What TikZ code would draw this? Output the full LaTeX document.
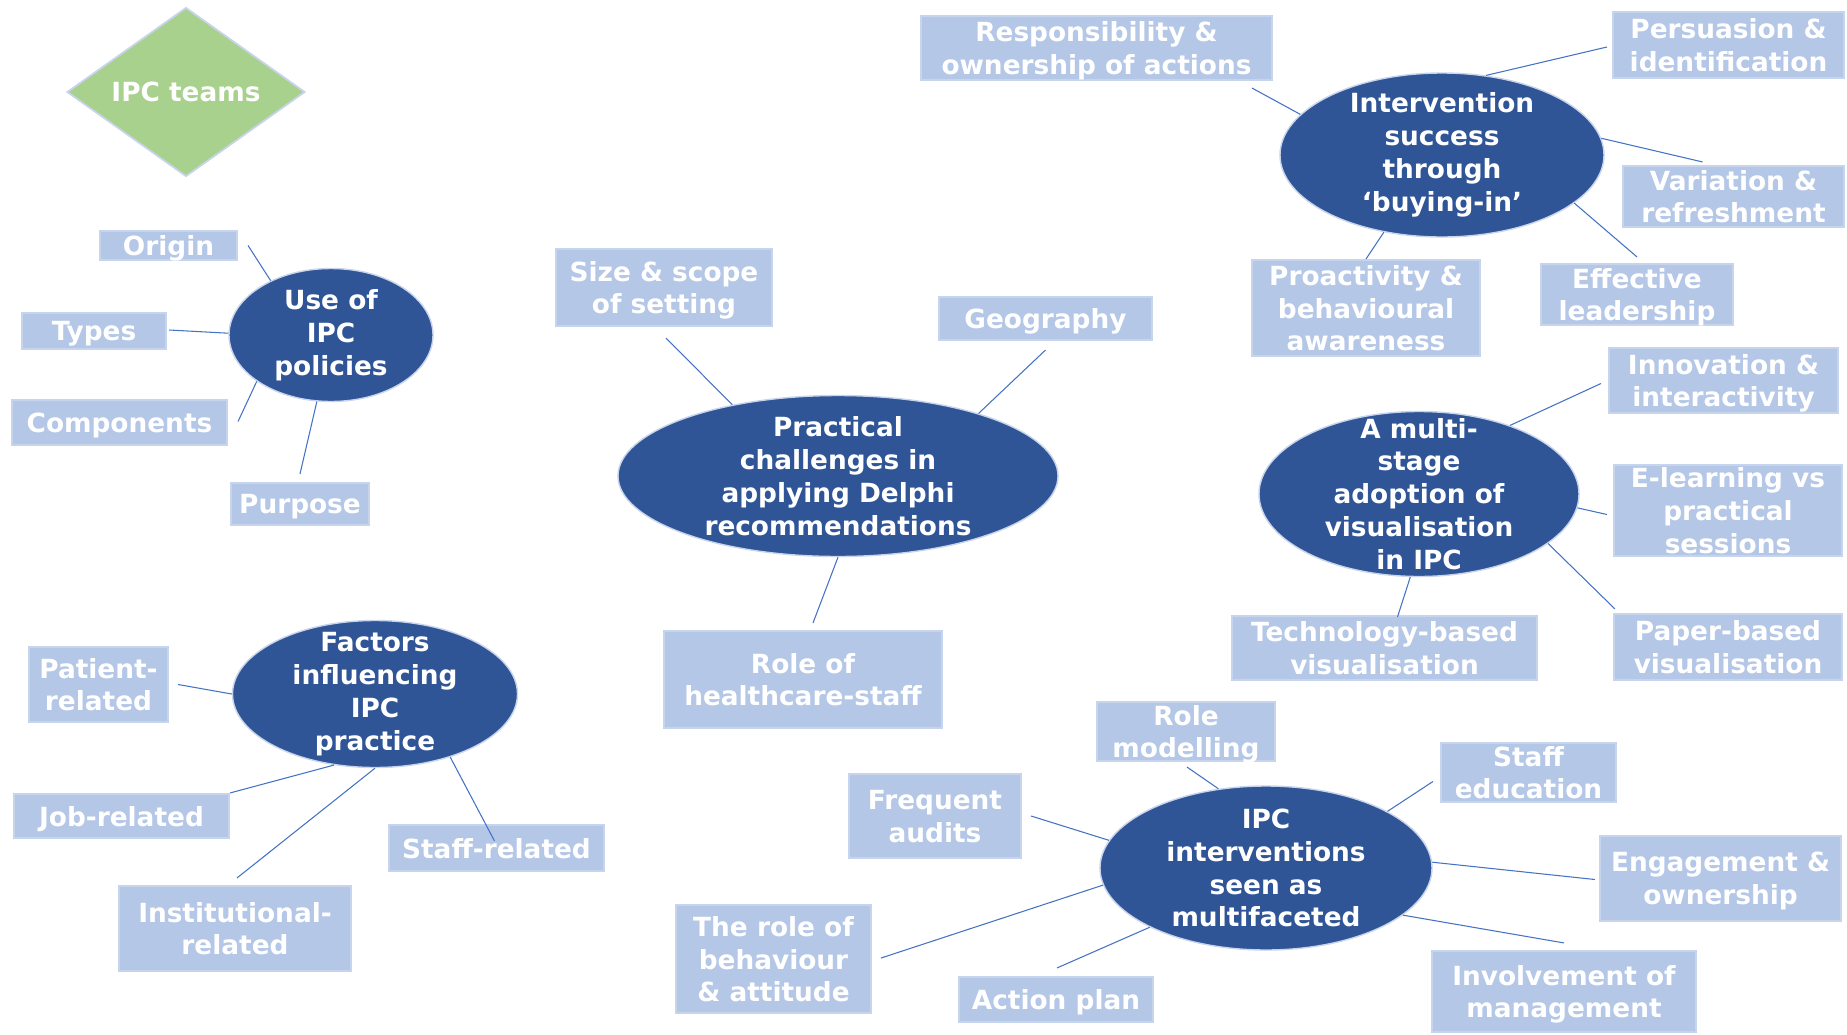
\documentclass[tikz,border=0pt]{standalone}
\usepackage{fontspec}
\setmainfont{DejaVu Sans}
\usetikzlibrary{shapes.geometric,calc}
\definecolor{hubblue}{HTML}{2F5597}
\definecolor{hubedge}{HTML}{C8D4EB}
\definecolor{leafblue}{HTML}{B4C7E7}
\definecolor{leafedge}{HTML}{C6D4ED}
\definecolor{linkblue}{HTML}{4472C4}
\definecolor{teamgreen}{HTML}{A9D18E}
\newcommand{\labfont}{\fontsize{15}{18.7}\selectfont\bfseries}
\begin{document}
\begin{tikzpicture}[x=0.02cm,y=-0.02cm,
  sz/.style 2 args={minimum width=#1*0.02cm, minimum height=#2*0.02cm},
  hub/.style={ellipse, fill=hubblue, draw=hubedge, line width=0.8pt, inner sep=0pt},
  hubtext/.style={text=white, align=center, font=\labfont, inner sep=0pt},
  leaf/.style={rectangle, fill=leafblue, draw=leafedge, line width=1.2pt, inner sep=0pt,
    text=white, align=center, font=\labfont, text depth=0pt},
  link/.style={draw=linkblue, line width=0.6pt},
  team/.style={diamond, fill=teamgreen, draw=hubedge, line width=1pt, inner sep=0pt,
    text=white, font=\labfont}]
\path[use as bounding box, fill=white] (0,0) rectangle (1847,1035);

% stand-alone team marker
\node[team, sz={238}{162}] (teams) at (186,92) {IPC teams};

% --- Use of IPC policies ---
\node[hub, sz={204}{133}] (use) at (331,335) {};
\node[hubtext] (use-t) at (use) {Use of\\IPC\\policies};
\node[leaf, sz={137}{29}] (origin) at (168.5,245.5) {Origin};
\node[leaf, sz={144}{36}] (types) at (94,331) {Types};
\node[leaf, sz={215}{45}] (comps) at (119.5,422.5) {Components};
\node[leaf, sz={138}{42}] (purpose) at (300,504) {Purpose};

% --- Practical challenges ---
\node[hub, sz={440}{161}] (prac) at (838,476) {};
\node[hubtext] (prac-t) at (prac) {Practical\\challenges in\\applying Delphi\\recommendations};
\node[leaf, sz={216}{77}] (size) at (664,287.5) {Size \& scope\\of setting};
\node[leaf, sz={213}{43}] (geo) at (1045.5,318.5) {Geography};
\node[leaf, sz={278}{97}] (role) at (803,679.5) {Role of\\healthcare-staff};

% --- Factors influencing IPC practice ---
\node[hub, sz={285}{147}] (fact) at (375,694) {};
\node[hubtext] (fact-t) at (fact) {Factors\\influencing\\IPC\\practice};
\node[leaf, sz={139}{75}] (patient) at (98.5,684.5) {Patient-\\related};
\node[leaf, sz={215}{44}] (job) at (121.5,816) {Job-related};
\node[leaf, sz={232}{85}] (inst) at (235,928.5) {Institutional-\\related};
\node[leaf, sz={215}{46}] (staff) at (496.5,848) {Staff-related};

% --- Intervention success ---
\node[hub, sz={324}{164}] (succ) at (1442,155) {};
\node[hubtext] (succ-t) at (succ) {Intervention\\success\\through\\‘buying-in’};
\node[leaf, sz={351}{64}] (resp) at (1096.5,48) {Responsibility \&\\ownership of actions};
\node[leaf, sz={231}{66}] (pers) at (1728.5,45) {Persuasion \&\\identification};
\node[leaf, sz={221}{61}] (vari) at (1733.5,196.5) {Variation \&\\refreshment};
\node[leaf, sz={192}{61}] (lead) at (1637,294.5) {Effective\\leadership};
\node[leaf, sz={228}{96}] (proa) at (1366,308) {Proactivity \&\\behavioural\\awareness};

% --- Multi-stage adoption of visualisation ---
\node[hub, sz={320}{165}] (multi) at (1419,494) {};
\node[hubtext] (multi-t) at (multi) {A multi-\\stage\\adoption of\\visualisation\\in IPC};
\node[leaf, sz={229}{65}] (inno) at (1723.5,380.5) {Innovation \&\\interactivity};
\node[leaf, sz={228}{91}] (elearn) at (1728,510.5) {E-learning vs\\practical\\sessions};
\node[leaf, sz={228}{66}] (paper) at (1728,647) {Paper-based\\visualisation};
\node[leaf, sz={305}{64}] (tech) at (1384.5,648) {Technology-based\\visualisation};

% --- IPC interventions seen as multifaceted ---
\node[hub, sz={332}{164}] (intv) at (1266,868) {};
\node[hubtext] (intv-t) at (intv) {IPC\\interventions\\seen as\\multifaceted};
\node[leaf, sz={178}{59}] (rolem) at (1186,731.5) {Role\\modelling};
\node[leaf, sz={175}{59}] (staffed) at (1528.5,772.5) {Staff\\education};
\node[leaf, sz={172}{84}] (freq) at (935,816) {Frequent\\audits};
\node[leaf, sz={241}{85}] (eng) at (1720.5,878.5) {Engagement \&\\ownership};
\node[leaf, sz={264}{81}] (invol) at (1564,991.5) {Involvement of\\management};
\node[leaf, sz={194}{45}] (act) at (1056,999.5) {Action plan};
\node[leaf, sz={195}{108}] (behav) at (773.5,959) {The role of\\behaviour\\\& attitude};

% connectors
\draw[link] ($(origin.east)+(10,0)$) -- (use.138);
\draw[link] ($(types.east)+(2,-1)$) -- (use.179);
\draw[link] ($(comps.east)+(10,-1)$) -- (use.212);
\draw[link] ($(purpose.north)+(0,-8)$) -- (use.258);

\draw[link] ($(size.south)+(2,11)$) -- (prac.146);
\draw[link] ($(geo.south)+(0,9)$) -- (prac.24);
\draw[link] ($(role.north)+(10,-7)$) -- (prac.270);

\draw[link] ($(patient.east)+(9,0)$) -- (fact.180);
\draw[link] (job.north east) -- (fact.240);
\draw[link] ($(inst.north)+(2,-7)$) -- (fact.270);
\draw[link] ($(staff.north)+(-2,17)$) -- (fact.320);

\draw[link] ($(resp.south east)+(-21,7)$) -- (succ.164);
\draw[link] ($(pers.west)+(-5,2)$) -- (succ.61);
\draw[link] ($(vari.north)+(-31,-3)$) -- (succ.6);
\draw[link] ($(lead.north)+(0,-6)$) -- (succ.340);
\draw[link] (proa.north) -- (succ.233);

\draw[link] ($(inno.west)+(-7,3)$) -- (multi.37);
\draw[link] ($(elearn.west)+(-6,4)$) -- (multi.355);
\draw[link] ($(paper.north west)+(2,-4)$) -- (multi.339);
\draw[link] ($(tech.north)+(13,2)$) -- (multi.264);

\draw[link] ($(rolem.south)+(1,5)$) -- (intv.121);
\draw[link] ($(staffed.west)+(-7,9)$) -- (intv.25);
\draw[link] ($(freq.east)+(9,0)$) -- (intv.170);
\draw[link] ($(eng.west)+(-4,1)$) -- (intv.2);
\draw[link] ($(invol.north)+(0,-7)$) -- (intv.341);
\draw[link] ($(act.north)+(1,-8)$) -- (intv.207);
\draw[link] ($(behav.east)+(9,-1)$) -- (intv.186);
\end{tikzpicture}
\end{document}
